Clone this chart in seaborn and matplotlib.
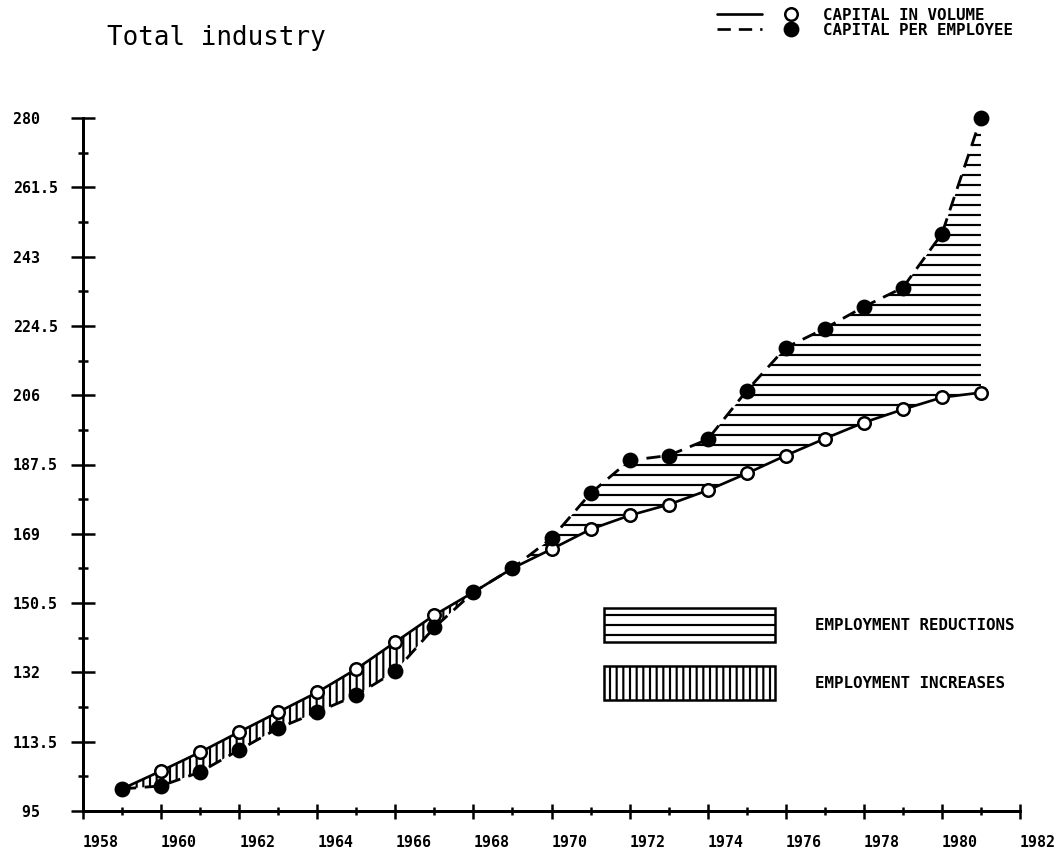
import matplotlib
matplotlib.use("Agg")
import matplotlib.pyplot as plt
import seaborn as sns
import numpy as np
import pandas as pd
from matplotlib.lines import Line2D
from matplotlib.patches import Patch
from matplotlib.legend_handler import HandlerTuple
from matplotlib.ticker import MultipleLocator, FixedLocator

# ---- data ----
years = list(range(1959, 1982))
capital_volume = [100.9, 105.7, 110.7, 116.1, 121.4, 126.7, 132.9, 140.1, 147.3,
                  153.4, 159.8, 164.9, 170.2, 173.9, 176.8, 180.6, 185.1, 189.9,
                  194.4, 198.7, 202.2, 205.4, 206.7]
capital_per_employee = [100.9, 101.7, 105.4, 111.3, 117.1, 121.4, 125.9, 132.3, 144.0,
                        153.4, 159.8, 167.8, 179.8, 188.6, 189.9, 194.2, 207.2, 218.7,
                        223.8, 229.6, 234.7, 249.1, 280.0]
y_ticks = [95, 113.5, 132, 150.5, 169, 187.5, 206, 224.5, 243, 261.5, 280]
y_tick_labels = ["95", "113.5", "132", "150.5", "169", "187.5", "206", "224.5",
                 "243", "261.5", "280"]
x_ticks = list(range(1958, 1983, 2))
x_tick_labels = [str(v) for v in x_ticks]
title = "Total industry"
series_labels = ["CAPITAL IN VOLUME", "CAPITAL PER EMPLOYEE"]
region_labels = ["EMPLOYMENT REDUCTIONS", "EMPLOYMENT INCREASES"]

# ---- style ----
DPI = 120
sns.set_theme(style="ticks")
plt.rcParams["font.family"] = ["DejaVu Sans Mono", "DejaVu Sans"]
plt.rcParams["hatch.linewidth"] = 1.3
plt.rcParams["hatch.color"] = "black"
plt.rcParams["text.color"] = "black"
MONO = "DejaVu Sans Mono"

df = pd.DataFrame({"year": years, "volume": capital_volume,
                   "per_employee": capital_per_employee})

fig = plt.figure(figsize=(1057 / DPI, 860 / DPI), dpi=DPI, facecolor="white")
ax = fig.add_axes([83 / 1057, 1 - 811 / 860, 937 / 1057, 693 / 860])
ax.set_facecolor("white")

# hatched areas between the curves
ax.fill_between(df["year"], df["volume"], df["per_employee"],
                where=df["per_employee"] >= df["volume"], interpolate=True,
                facecolor="none", edgecolor="black", hatch="--", linewidth=0, zorder=1)
ax.fill_between(df["year"], df["volume"], df["per_employee"],
                where=df["per_employee"] <= df["volume"], interpolate=True,
                facecolor="none", edgecolor="black", hatch="|||", linewidth=0, zorder=1)

sns.lineplot(data=df, x="year", y="volume", ax=ax, color="black", linewidth=1.6,
             marker="o", markersize=7.5, markerfacecolor="white",
             markeredgecolor="black", markeredgewidth=1.5, clip_on=False, zorder=4)
sns.lineplot(data=df, x="year", y="per_employee", ax=ax, color="black", linewidth=1.7,
             linestyle="--", marker="o", markersize=8.5, markerfacecolor="black",
             markeredgecolor="black", markeredgewidth=1.0, clip_on=False, zorder=5)
ax.lines[-1].set_dashes([5, 3])

# axes & ticks
ax.set_xlim(1958, 1982)
ax.set_ylim(95, 280)
ax.set_xlabel("")
ax.set_ylabel("")
sns.despine(ax=ax)
for s in ("left", "bottom"):
    ax.spines[s].set_linewidth(1.8)
    ax.spines[s].set_color("black")

ax.xaxis.set_major_locator(FixedLocator(x_ticks))
ax.xaxis.set_minor_locator(MultipleLocator(1))
ax.yaxis.set_major_locator(FixedLocator(y_ticks))
ax.yaxis.set_minor_locator(FixedLocator(list(np.array(y_ticks[:-1]) + 9.25)))

ax.set_xticklabels(x_tick_labels)
ax.set_yticklabels([lab if "." in lab else lab + "  " for lab in y_tick_labels])

ax.tick_params(axis="y", which="major", direction="inout", length=14, width=1.5,
               color="black", pad=8)
ax.tick_params(axis="y", which="minor", direction="inout", length=6, width=1.5,
               color="black")
ax.tick_params(axis="x", which="major", direction="inout", length=9, width=1.5,
               color="black", pad=10)
ax.tick_params(axis="x", which="minor", direction="inout", length=5, width=1.5,
               color="black")
for lab in ax.get_xticklabels():
    lab.set_fontfamily(MONO)
    lab.set_fontweight("bold")
    lab.set_fontsize(9)
    lab.set_horizontalalignment("left")
    lab.set_color("black")
for lab in ax.get_yticklabels():
    lab.set_fontfamily(MONO)
    lab.set_fontweight("bold")
    lab.set_fontsize(9)
    lab.set_color("black")

# title
fig.text(107 / 1057, 1 - 38 / 860, title, fontsize=15.5, family=MONO,
         ha="left", va="center", color="black")

# series legend (top right)
h_vol = (Line2D([], [], color="black", lw=1.6),
         Line2D([], [], ls="none", marker="o", mfc="white", mec="black", mew=1.5, ms=7.5))
h_emp = (Line2D([], [], color="black", lw=1.6, dashes=[5, 3]),
         Line2D([], [], ls="none", marker="o", color="black", ms=8.5))
fig.legend(handles=[h_vol, h_emp], labels=series_labels,
           handler_map={tuple: HandlerTuple(ndivide=2, pad=0.41)},
           loc="upper left", bbox_to_anchor=(717 / 1057, 1 - 8 / 860),
           frameon=False, prop=dict(family=MONO, weight="bold", size=9.5),
           labelcolor="black",
           handlelength=6.1, handletextpad=0.6, labelspacing=0.0,
           borderpad=0, borderaxespad=0)

# hatching legend
patches = [Patch(facecolor="white", edgecolor="black", hatch="--", lw=1.5),
           Patch(facecolor="white", edgecolor="black", hatch="|||", lw=1.5)]
ax.legend(handles=patches, labels=region_labels, loc="upper left",
          bbox_to_anchor=(604 / 1057, 1 - 608 / 860), bbox_transform=fig.transFigure,
          frameon=False, prop=dict(family=MONO, weight="bold", size=9.5),
          labelcolor="black",
          handlelength=10.8, handleheight=2.9, handletextpad=2.5, labelspacing=1.55,
          borderpad=0, borderaxespad=0)

fig.savefig("out.png", dpi=DPI, facecolor="white")
